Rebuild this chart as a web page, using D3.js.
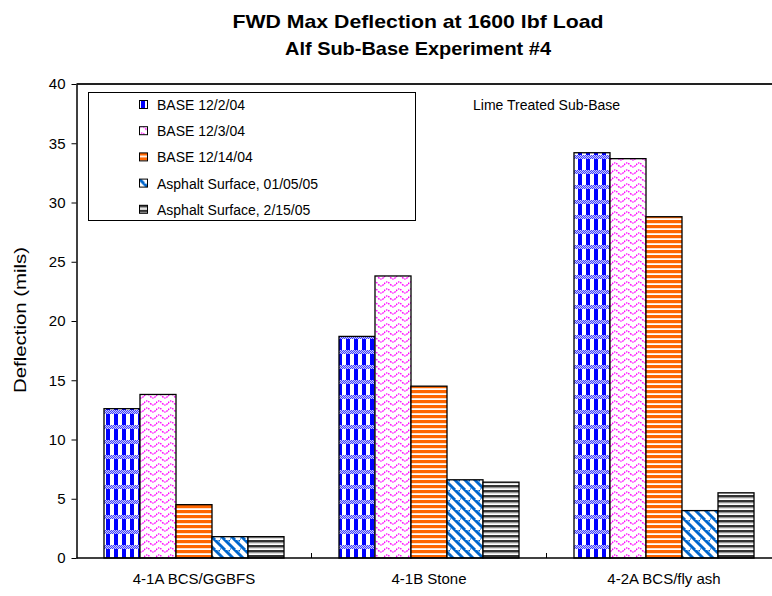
<!DOCTYPE html>
<html>
<head>
<meta charset="utf-8">
<script src="https://cdn.jsdelivr.net/npm/d3@7"></script>
<style>
  html, body { margin: 0; padding: 0; background: #fff; }
  svg { display: block; font-family: "Liberation Sans", Arial, sans-serif; }
</style>
</head>
<body>
<svg id="chart" width="772" height="596"></svg>
<script>
// ---- data ----
const titleLines = ["FWD Max Deflection at 1600 lbf Load", "Alf Sub-Base Experiment #4"];
const categories = ["4-1A BCS/GGBFS", "4-1B Stone", "4-2A BCS/fly ash"];
const seriesNames = ["BASE 12/2/04", "BASE 12/3/04", "BASE 12/14/04", "Asphalt Surface, 01/05/05", "Asphalt Surface, 2/15/05"];
const base_12_2_04 = [12.6, 18.7, 34.2];
const base_12_3_04 = [13.8, 23.8, 33.7];
const base_12_14_04 = [4.5, 14.5, 28.8];
const asphalt_01_05_05 = [1.8, 6.6, 4.0];
const asphalt_2_15_05 = [1.8, 6.4, 5.5];
const yTicks = [0, 5, 10, 15, 20, 25, 30, 35, 40];
const yLabel = "Deflection (mils)";
const annotation = "Lime Treated Sub-Base";

const seriesValues = [base_12_2_04, base_12_3_04, base_12_14_04, asphalt_01_05_05, asphalt_2_15_05];

// ---- layout ----
const svg = d3.select("#chart");
const plot = { left: 76.5, right: 781.5, top: 84, bottom: 558 };

const x0 = d3.scaleBand().domain(categories).range([plot.left, plot.right]).paddingInner(0.234).paddingOuter(0.117);
const x1 = d3.scaleBand().domain(d3.range(seriesNames.length)).range([0, x0.bandwidth()]).padding(0);
const y = d3.scaleLinear().domain([0, 40]).range([plot.bottom, plot.top]);

// ---- patterns ----
const defs = svg.append("defs");
function pat(id, w, h, build) {
  const p = defs.append("pattern").attr("id", id).attr("patternUnits", "userSpaceOnUse")
    .attr("width", w).attr("height", h);
  p.append("rect").attr("width", w).attr("height", h).attr("fill", "#fff");
  build(p);
  return "url(#" + id + ")";
}
defs.append("pattern").attr("id", "chk").attr("patternUnits", "userSpaceOnUse").attr("width", 2).attr("height", 2)
  .call(p => {
    p.append("rect").attr("width", 2).attr("height", 2).attr("fill", "#c8c8ff");
    p.append("rect").attr("width", 1).attr("height", 1).attr("fill", "#4040ff");
    p.append("rect").attr("x", 1).attr("y", 1).attr("width", 1).attr("height", 1).attr("fill", "#4040ff");
  });
const fills = [
  pat("p0", 8, 15, p => {
    p.append("rect").attr("x", 2).attr("y", 0).attr("width", 4).attr("height", 15).attr("fill", "#0000ff");
    p.append("rect").attr("x", 0).attr("y", 5).attr("width", 8).attr("height", 4).attr("fill", "url(#chk)");
  }),
  pat("p1", 12, 7, p => {
    p.append("path").attr("d", "M0,4 Q3,0 6,4 T12,4").attr("fill", "none")
      .attr("stroke", "#ff00ff").attr("stroke-width", 1.4).attr("stroke-dasharray", "1.5,1");
  }),
  pat("p2", 8, 5, p => {
    p.append("rect").attr("x", 0).attr("y", 0).attr("width", 8).attr("height", 3).attr("fill", "#ff6600");
    p.append("rect").attr("x", 0).attr("y", 3).attr("width", 8).attr("height", 0.6).attr("fill", "#ffc8a0");
  }),
  pat("p3", 10, 10, p => {
    p.append("path").attr("d", "M-5,0 L5,10 M0,-5 L15,10 M5,-5 L15,5 M-5,5 L0,10").attr("fill", "none")
      .attr("stroke", "#0066cc").attr("stroke-width", 3);
  }),
  pat("p4", 8, 5, p => {
    p.append("rect").attr("x", 0).attr("y", 0).attr("width", 8).attr("height", 2.6).attr("fill", "#333333");
    p.append("rect").attr("x", 0).attr("y", 2.6).attr("width", 8).attr("height", 0.8).attr("fill", "#aaaaaa");
  })
];

// ---- title ----
const titleLen = [371, 266];
svg.append("g").selectAll("text").data(titleLines).join("text")
  .attr("x", 418).attr("y", (d, i) => 28 + i * 27)
  .attr("text-anchor", "middle").attr("font-weight", "bold").attr("font-size", 19)
  .attr("textLength", (d, i) => titleLen[i]).attr("lengthAdjust", "spacingAndGlyphs")
  .attr("fill", "#000").text(d => d);

// ---- bars ----
const barData = [];
categories.forEach((c, ci) => {
  seriesValues.forEach((vals, si) => barData.push({ c, si, v: vals[ci] }));
});
svg.append("g").selectAll("rect").data(barData).join("rect")
  .attr("x", d => x0(d.c) + x1(d.si))
  .attr("y", d => y(d.v))
  .attr("width", x1.bandwidth())
  .attr("height", d => y(0) - y(d.v))
  .attr("fill", d => fills[d.si])
  .attr("stroke", "#000").attr("stroke-width", 1.3);

// ---- plot border (top) and axes ----
svg.append("line").attr("x1", plot.left).attr("x2", plot.right).attr("y1", plot.top).attr("y2", plot.top)
  .attr("stroke", "#222").attr("stroke-width", 2);

const yAxis = svg.append("g").attr("transform", `translate(${plot.left},0)`)
  .call(d3.axisLeft(y).tickValues(yTicks).tickSize(5).tickPadding(6).tickSizeOuter(0));
yAxis.select(".domain").attr("stroke", "#000").attr("stroke-width", 1.5);
yAxis.selectAll(".tick line").attr("stroke", "#000");
yAxis.selectAll(".tick text").attr("font-size", 15).attr("fill", "#000")
  .attr("font-family", "Liberation Sans, Arial, sans-serif");

// category axis
const xAxisG = svg.append("g");
xAxisG.append("line").attr("x1", plot.left).attr("x2", plot.right).attr("y1", plot.bottom).attr("y2", plot.bottom)
  .attr("stroke", "#000").attr("stroke-width", 1.5);
const boundaries = categories.slice(1).map(c => x0(c) - x0.step() * x0.paddingInner() / 2);
xAxisG.selectAll("line.tk").data(boundaries).join("line").attr("class", "tk")
  .attr("x1", d => d).attr("x2", d => d).attr("y1", plot.bottom).attr("y2", plot.bottom - 5)
  .attr("stroke", "#000");
xAxisG.selectAll("text").data(categories).join("text")
  .attr("x", d => x0(d) + x0.bandwidth() / 2).attr("y", 584)
  .attr("text-anchor", "middle").attr("font-size", 15).attr("fill", "#000").text(d => d);

// y label
svg.append("text").attr("transform", "translate(26,320) rotate(-90)")
  .attr("text-anchor", "middle").attr("font-size", 16)
  .attr("textLength", 146).attr("lengthAdjust", "spacingAndGlyphs")
  .attr("fill", "#000").text(yLabel);

// annotation
svg.append("text").attr("x", 473).attr("y", 110).attr("font-size", 14).attr("fill", "#000").text(annotation);

// ---- legend ----
const lg = svg.append("g");
lg.append("rect").attr("x", 88.5).attr("y", 92.5).attr("width", 327).attr("height", 128)
  .attr("fill", "#fff").attr("stroke", "#000").attr("stroke-width", 1);
const items = lg.selectAll("g.item").data(seriesNames).join("g").attr("class", "item")
  .attr("transform", (d, i) => `translate(139,${105 + i * 26.2})`);
items.append("rect").attr("x", 0.5).attr("y", -4.5).attr("width", 8).attr("height", 8)
  .attr("fill", (d, i) => fills[i]).attr("stroke", "#000").attr("stroke-width", 1);
items.append("text").attr("x", 18).attr("y", 5).attr("font-size", 14).attr("fill", "#000").text(d => d);
</script>
</body>
</html>
